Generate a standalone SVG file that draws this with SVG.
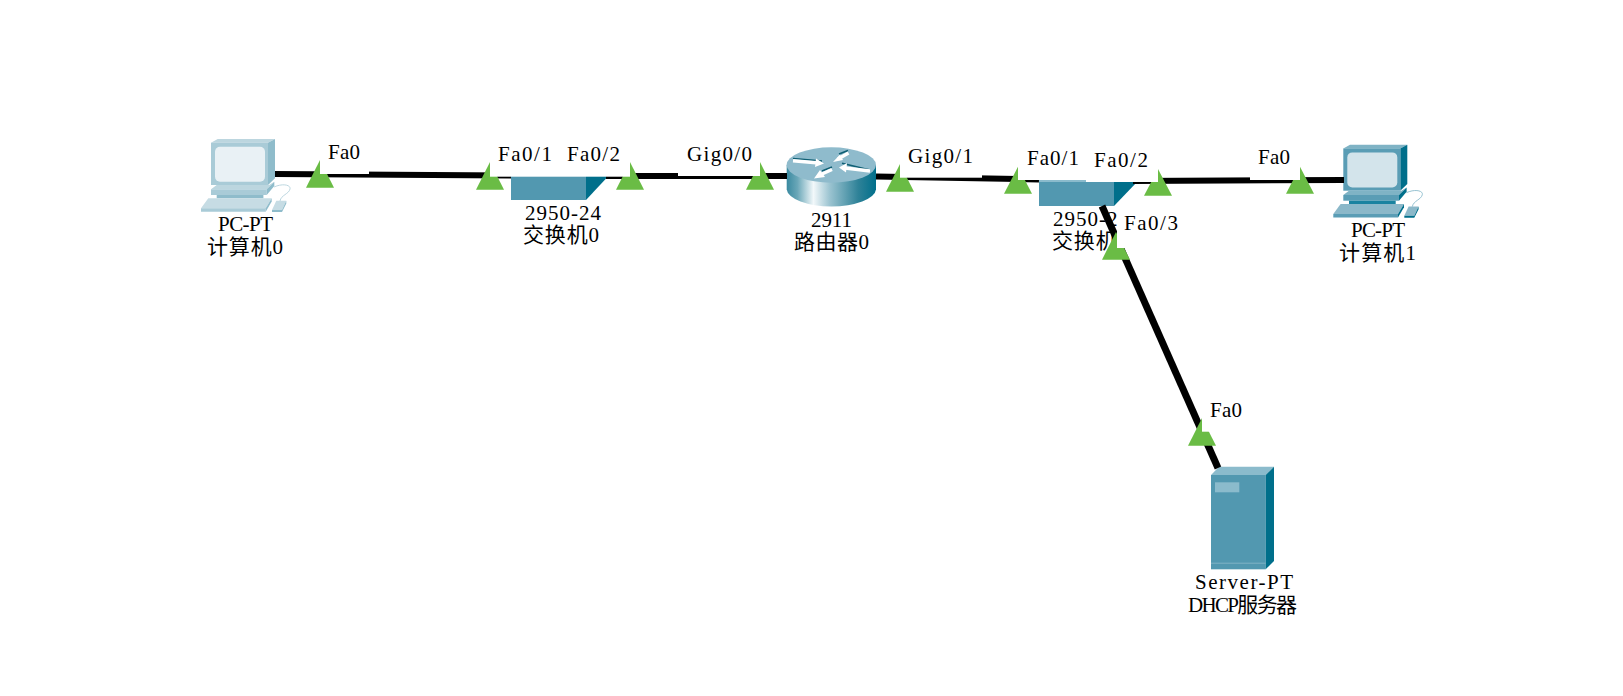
<svg xmlns="http://www.w3.org/2000/svg" xmlns:xlink="http://www.w3.org/1999/xlink" width="1623" height="696" viewBox="0 0 1623 696">
<style>
text{font-family:"Liberation Serif","Noto Sans CJK SC",serif;font-size:21px;fill:#000}
.link{stroke:#000;stroke-width:6;fill:none}
.port{fill:#6abc45}
.box{fill:#fff}
.pc0{--out:#a9cbd7;--top:#bcd6df;--side:#8fbccb;--scr:#e9f1f5;--base:#a9cbd7;--neck:#8fbccb;--key:#c6dce4;--cab:#b5d2dc}
.pc1{--out:#5a9db5;--top:#7fb3c5;--side:#006f8b;--scr:#d3e4eb;--base:#5a9db5;--neck:#1a83a0;--key:#8bb8c9;--cab:#8bbbcc}
.sw-front{fill:#5298b0}.sw-side{fill:#006f8b}.sw-top{fill:#8bbbcc}
.arrow-w{stroke:#fff;stroke-width:3.4;fill:none}.arrow-d{stroke:#0f5f74;stroke-width:1.6;fill:none}
</style>
<defs>
<linearGradient id="rg" x1="0" x2="1" y1="0" y2="0">
<stop offset="0" stop-color="#3a8aa0"/><stop offset=".12" stop-color="#6aa7b8"/><stop offset=".3" stop-color="#f2f8fa"/><stop offset=".48" stop-color="#9cc4d1"/><stop offset=".8" stop-color="#2f8298"/><stop offset="1" stop-color="#006f8b"/>
</linearGradient>
<g id="pc">
<path d="M0 3.700 6.700 0H64L57 3.700z" fill="var(--top)"/>
<path d="M57 3.700 64 0V39.300L57 46z" fill="var(--side)"/>
<rect x="0" y="3.700" width="57" height="42.300" fill="var(--out)"/>
<rect x="4" y="7.700" width="50" height="35" rx="5" fill="var(--scr)"/>
<path d="M5.700 46H58L63.300 42.700 55.700 50.300H0z" fill="var(--top)"/>
<rect x="0" y="50.300" width="55.700" height="5.700" fill="var(--base)"/>
<path d="M55.700 50.300 63.300 42.700V47L55.700 56z" fill="var(--side)"/>
<rect x="5.700" y="56" width="46.700" height="3.300" fill="var(--neck)"/>
<path d="M-2.700 59.300H60.700L54.700 69.300H-10z" fill="var(--key)"/>
<path d="M-10 69.300H54.700V72.700H-10z" fill="var(--out)"/>
<path d="M54.700 69.300 60.700 59.300V62.500L54.700 72.700z" fill="var(--side)"/>
<path d="M65.300 61.700H75.300L71 71H61z" fill="var(--key)"/>
<path d="M61 71H71V73H61zM71 71 75.300 61.700V64.500L71 73z" fill="var(--side)"/>
<path d="M63 48C72 44 80 46 79 50 78 55 70 56 69 62" fill="none" stroke="var(--cab)" stroke-width=".9"/>
</g>
</defs>
<rect width="1623" height="696" fill="#fff"/>

<g id="pc0" class="pc0">
<use xlink:href="#pc" href="#pc" x="211" y="139"/>
<text x="218" y="231" textLength="55">PC-PT</text>
<text x="207" y="254" textLength="76">计算机0</text>
</g>

<g id="switch0">
<rect class="sw-front" x="511" y="170" width="75" height="30"/>
<path class="sw-side" d="M586 200V170H614z"/>
<text x="525" y="220" textLength="76">2950-24</text>
<text x="523" y="242" textLength="76">交换机0</text>
</g>

<g id="router0">
<path d="M786.700 165V189.600A44.700 17.700 0 0 0 876 189.600V165z" fill="url(#rg)"/>
<ellipse cx="831.300" cy="165" rx="44.700" ry="17.700" fill="#8fbbcc"/>
<path class="arrow-d" d="M793 158.500 822 161M839 154 848 150.500M842 163.300 870 170M822 171 832 167"/>
<path class="arrow-w" d="M793 160.700 816 162.700M838 159 848.500 153M845 168 870 171M822 174 832 169.500"/>
<path fill="#fff" d="M816 158.500 824 163.500 815 167zM833 162 840 154.500 843 160zM839 167.500 847 163 846 172.500zM814 178.500 820 170 825 177z"/>
<text x="811" y="227" textLength="41">2911</text>
<text x="794" y="249" textLength="75">路由器0</text>
</g>

<g id="switch1">
<rect class="sw-top" x="1039" y="174" width="75" height="8"/>
<rect class="sw-front" x="1039" y="182" width="75" height="24"/>
<path class="sw-side" d="M1114 206V182H1137z"/>
<text x="1053" y="226" textLength="76">2950-24</text>
<text x="1052" y="248" textLength="76">交换机1</text>
</g>

<g id="pc1" class="pc1">
<use xlink:href="#pc" href="#pc" x="1343.300" y="144.700"/>
<text x="1351" y="236.700" textLength="54">PC-PT</text>
<text x="1339" y="260" textLength="77">计算机1</text>
</g>

<g id="server">
<path d="M1211 475 1219 466.700H1274L1265.700 475z" fill="#8bbbcc"/>
<rect x="1211" y="475" width="54.700" height="94.300" fill="#5298b0"/>
<path class="sw-side" d="M1265.700 475 1274 466.700V561L1265.700 569.300z"/>
<rect x="1215" y="482.300" width="24.300" height="10" fill="#8bbbcc"/>
<rect x="1211" y="562.700" width="54.700" height="1" fill="#7fb3c5"/>
<text x="1195" y="589.300" textLength="98">Server-PT</text>
<text x="1188" y="611.700" textLength="109">DHCP服务器</text>
</g>

<g id="connectors">
<path class="link" d="M275 174 511 175.600"/>
<path class="link" d="M606 176 787 176"/>
<path class="link" d="M876 176.500 1039 179.500"/>
<path class="link" d="M1133 181 1344 180"/>
<path class="link" style="stroke-width:7" d="M1102 206 1218 468"/>
<g id="ports">
<path class="port" d="M320 160 306 187.700H334z"/>
<path class="port" d="M490 162 476 189.700H504z"/>
<path class="port" d="M630 162 616 189.700H644z"/>
<path class="port" d="M760 162 746 189.700H774z"/>
<path class="port" d="M900 164 886 191.700H914z"/>
<path class="port" d="M1018 166.700 1004 193.700H1032z"/>
<path class="port" d="M1158 169 1144 195.700H1172z"/>
<path class="port" d="M1300 166.700 1286 193.700H1314z"/>
<path class="port" d="M1116 232 1102 259.700H1130z"/>
<path class="port" d="M1202 418 1188 445.700H1216z"/>
</g>
</g>

<g id="port-labels">
<rect class="box" x="320" y="150" width="49" height="24"/>
<rect class="box" x="490" y="150" width="70" height="26.700"/>
<rect class="box" x="560" y="150" width="70" height="26.700"/>
<rect class="box" x="678" y="150" width="82" height="26"/>
<rect class="box" x="900" y="150" width="82" height="27.700"/>
<rect class="box" x="1018" y="150" width="68" height="30"/>
<rect class="box" x="1086" y="150" width="72" height="32"/>
<rect class="box" x="1250" y="150" width="50" height="30"/>
<rect class="box" x="1117" y="212" width="64" height="36"/>
<rect class="box" x="1202" y="400" width="48" height="31.700"/>
<text x="328" y="159" textLength="32">Fa0</text>
<text x="498" y="161" textLength="54">Fa0/1</text>
<text x="567" y="161" textLength="53">Fa0/2</text>
<text x="687" y="161" textLength="65">Gig0/0</text>
<text x="908" y="162.700" textLength="65">Gig0/1</text>
<text x="1027" y="165" textLength="52">Fa0/1</text>
<text x="1094" y="167" textLength="54">Fa0/2</text>
<text x="1258" y="164" textLength="32">Fa0</text>
<text x="1124" y="230" textLength="54">Fa0/3</text>
<text x="1210" y="416.700" textLength="32">Fa0</text>
</g>
</svg>
